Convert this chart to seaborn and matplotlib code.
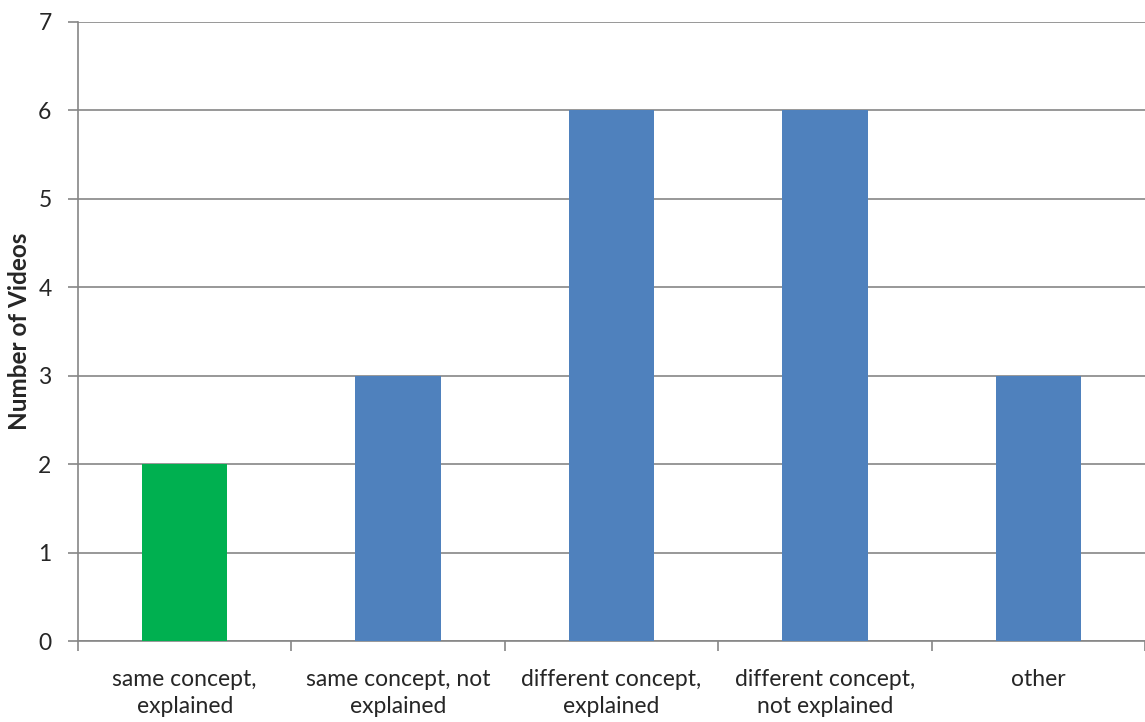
import matplotlib
matplotlib.use("Agg")
import matplotlib.pyplot as plt
import seaborn as sns
import pandas as pd
import numpy as np

categories = ["same concept,\nexplained", "same concept, not\nexplained",
              "different concept,\nexplained", "different concept,\nnot explained", "other"]
values = [2, 3, 6, 6, 3]
colors = ["#00B050", "#4F81BD", "#4F81BD", "#4F81BD", "#4F81BD"]
y_label = "Number of Videos"

sns.set_style("white")
plt.rcParams['font.family'] = ['Lato', 'DejaVu Sans']

df = pd.DataFrame({"cat": categories, "val": values})

fig = plt.figure(figsize=(11.45, 7.22), dpi=100)
ax = fig.add_axes([78/1145, 1-641/722, 1-78/1145, (641-22)/722])

sns.barplot(data=df, x="cat", y="val", hue="cat", palette=colors, legend=False,
            width=0.40, saturation=1, linewidth=0, ax=ax, zorder=3)

grid_c = "#868686"
ax.set_ylim(0, 7)
ax.set_xlim(-0.5, len(categories) - 0.5)
ax.set_yticks(range(0, 8))
ax.yaxis.grid(True, color=grid_c, linewidth=1.2, zorder=0)
ax.set_axisbelow(True)
for s in ["top", "right"]:
    ax.spines[s].set_visible(False)
ax.spines["left"].set_color(grid_c)
ax.spines["bottom"].set_color(grid_c)
ax.spines["left"].set_linewidth(1.2)
ax.spines["bottom"].set_linewidth(1.2)

ax.tick_params(axis="y", length=7, color=grid_c, width=1.2, labelsize=16.5, pad=12, left=True)
ax.set_xticks(range(len(categories)))
ax.set_xticklabels(categories, fontsize=16.5, linespacing=1.35)
ax.tick_params(axis="x", which="major", length=0, pad=20)
ax.set_xticks(np.arange(-0.5, len(categories)), minor=True)
ax.tick_params(axis="x", which="minor", length=7, color=grid_c, width=1.2, bottom=True)

ax.set_xlabel("")
ax.set_ylabel(y_label, fontsize=17.5, fontweight="bold", labelpad=5)

fig.savefig("out.png", dpi=100)
